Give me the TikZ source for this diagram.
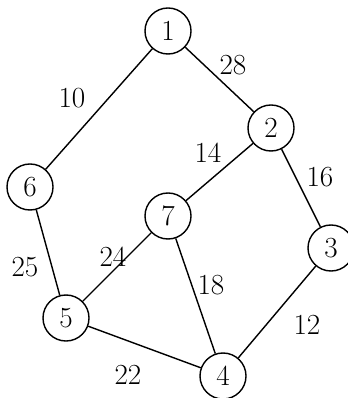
\documentclass[tikz,border=0pt]{standalone}

\begin{document}
\begin{tikzpicture}
[
	vertex/.style={circle,draw,line width=1pt,minimum size=1.15cm,inner sep=0pt,font=\huge},
	weight/.style={font=\huge},
	x=0.025cm, y=-0.025cm
]

	\useasboundingbox (0,0) rectangle (347,398);

	% vertices
	\node[vertex] (v1) at (168,31) {$1$};
	\node[vertex] (v2) at (271,128) {$2$};
	\node[vertex] (v3) at (331,248) {$3$};
	\node[vertex] (v4) at (223,376) {$4$};
	\node[vertex] (v5) at (66,318) {$5$};
	\node[vertex] (v6) at (30,187) {$6$};
	\node[vertex] (v7) at (168,216) {$7$};

	% edges
	\foreach \a/\b in {v1/v6,v1/v2,v2/v7,v2/v3,v6/v5,v7/v5,v7/v4,v3/v4,v5/v4} {
		\draw[line width=1pt] (\a) -- (\b);
	}

	% weights
	\node[weight] (w10) at (72,98) {$10$};
	\node[weight] (w28) at (233,65) {$28$};
	\node[weight] (w14) at (208,153) {$14$};
	\node[weight] (w16) at (320,177) {$16$};
	\node[weight] (w25) at (25,267) {$25$};
	\node[weight] (w24) at (113,257) {$24$};
	\node[weight] (w18) at (211,285) {$18$};
	\node[weight] (w12) at (307,325) {$12$};
	\node[weight] (w22) at (128,375) {$22$};

\end{tikzpicture}
\end{document}
